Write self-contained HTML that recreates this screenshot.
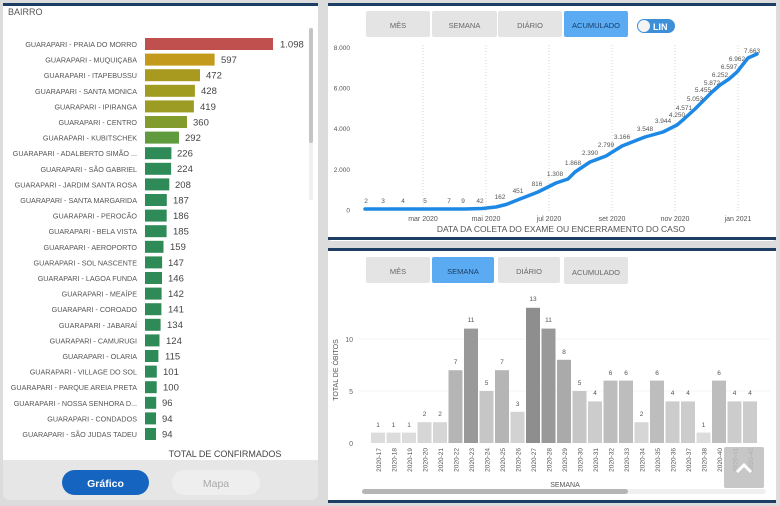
<!DOCTYPE html>
<html><head><meta charset="utf-8"><style>
html,body{margin:0;padding:0;width:780px;height:506px;overflow:hidden;background:#dedede;font-family:"Liberation Sans",sans-serif}
svg{display:block}
</style></head><body>
<svg width="780" height="506" viewBox="0 0 780 506" xmlns="http://www.w3.org/2000/svg" font-family="Liberation Sans, sans-serif">
<rect width="780" height="506" fill="#dcdcdc"/>
<!-- LEFT PANEL -->
<rect x="3" y="3" width="315" height="497" rx="6" fill="#e6e6e6"/>
<rect x="3" y="5" width="315" height="455" fill="#ffffff"/>
<rect x="3" y="3" width="315" height="3" fill="#1d3f66"/>
<text x="8" y="15" font-size="9" fill="#555">BAIRRO</text>
<rect x="309" y="28" width="4" height="172" fill="#f0f0f0"/>
<rect x="309" y="28" width="4" height="115" rx="2" fill="#c4c4c4"/>
<g font-size="7.2" fill="#555" text-anchor="end">
<text x="137" y="47">GUARAPARI - PRAIA DO MORRO</text>
<text x="137" y="62.6">GUARAPARI - MUQUIÇABA</text>
<text x="137" y="78.2">GUARAPARI - ITAPEBUSSU</text>
<text x="137" y="93.8">GUARAPARI - SANTA MONICA</text>
<text x="137" y="109.4">GUARAPARI - IPIRANGA</text>
<text x="137" y="125">GUARAPARI - CENTRO</text>
<text x="137" y="140.6">GUARAPARI - KUBITSCHEK</text>
<text x="137" y="156.2">GUARAPARI - ADALBERTO SIMÃO ...</text>
<text x="137" y="171.8">GUARAPARI - SÃO GABRIEL</text>
<text x="137" y="187.4">GUARAPARI - JARDIM SANTA ROSA</text>
<text x="137" y="203">GUARAPARI - SANTA MARGARIDA</text>
<text x="137" y="218.6">GUARAPARI - PEROCÃO</text>
<text x="137" y="234.2">GUARAPARI - BELA VISTA</text>
<text x="137" y="249.8">GUARAPARI - AEROPORTO</text>
<text x="137" y="265.4">GUARAPARI - SOL NASCENTE</text>
<text x="137" y="281">GUARAPARI - LAGOA FUNDA</text>
<text x="137" y="296.6">GUARAPARI - MEAÍPE</text>
<text x="137" y="312.2">GUARAPARI - COROADO</text>
<text x="137" y="327.8">GUARAPARI - JABARAÍ</text>
<text x="137" y="343.4">GUARAPARI - CAMURUGI</text>
<text x="137" y="359">GUARAPARI - OLARIA</text>
<text x="137" y="374.6">GUARAPARI - VILLAGE DO SOL</text>
<text x="137" y="390.2">GUARAPARI - PARQUE AREIA PRETA</text>
<text x="137" y="405.8">GUARAPARI - NOSSA SENHORA D...</text>
<text x="137" y="421.4">GUARAPARI - CONDADOS</text>
<text x="137" y="437">GUARAPARI - SÃO JUDAS TADEU</text>
</g>
<g>
<rect x="145" y="38" width="128" height="12" fill="#c0504d"/>
<rect x="145" y="53.6" width="69.6" height="12" fill="#c49a1c"/>
<rect x="145" y="69.2" width="55" height="12" fill="#a89a1e"/>
<rect x="145" y="84.8" width="49.9" height="12" fill="#a09c22"/>
<rect x="145" y="100.4" width="48.9" height="12" fill="#9c9c24"/>
<rect x="145" y="116" width="42" height="12" fill="#819b2c"/>
<rect x="145" y="131.6" width="34" height="12" fill="#5f9a3c"/>
<g fill="#2e8b57">
<rect x="145" y="147.2" width="26.4" height="12"/>
<rect x="145" y="162.8" width="26.1" height="12"/>
<rect x="145" y="178.4" width="24.3" height="12"/>
<rect x="145" y="194" width="21.8" height="12"/>
<rect x="145" y="209.6" width="21.7" height="12"/>
<rect x="145" y="225.2" width="21.6" height="12"/>
<rect x="145" y="240.8" width="18.5" height="12"/>
<rect x="145" y="256.4" width="17.1" height="12"/>
<rect x="145" y="272" width="17" height="12"/>
<rect x="145" y="287.6" width="16.6" height="12"/>
<rect x="145" y="303.2" width="16.4" height="12"/>
<rect x="145" y="318.8" width="15.6" height="12"/>
<rect x="145" y="334.4" width="14.5" height="12"/>
<rect x="145" y="350" width="13.4" height="12"/>
<rect x="145" y="365.6" width="11.8" height="12"/>
<rect x="145" y="381.2" width="11.7" height="12"/>
<rect x="145" y="396.8" width="11.2" height="12"/>
<rect x="145" y="412.4" width="11" height="12"/>
<rect x="145" y="428" width="11" height="12"/>
</g>
</g>
<g font-size="9.5" fill="#444">
<text x="280" y="47.5">1.098</text>
<text x="221" y="63">597</text>
<text x="206" y="78.6">472</text>
<text x="201" y="94.2">428</text>
<text x="200" y="109.8">419</text>
<text x="193" y="125.4">360</text>
<text x="185" y="141">292</text>
<text x="177" y="156.6">226</text>
<text x="177" y="172.2">224</text>
<text x="175" y="187.8">208</text>
<text x="173" y="203.4">187</text>
<text x="173" y="219">186</text>
<text x="173" y="234.6">185</text>
<text x="170" y="250.2">159</text>
<text x="168" y="265.8">147</text>
<text x="168" y="281.4">146</text>
<text x="168" y="297">142</text>
<text x="168" y="312.6">141</text>
<text x="167" y="328.2">134</text>
<text x="166" y="343.8">124</text>
<text x="165" y="359.4">115</text>
<text x="163" y="375">101</text>
<text x="163" y="390.6">100</text>
<text x="162" y="406.2">96</text>
<text x="162" y="421.8">94</text>
<text x="162" y="437.4">94</text>
</g>
<text x="225" y="457" font-size="9" fill="#444" text-anchor="middle">TOTAL DE CONFIRMADOS</text>
<rect x="62" y="470" width="87" height="25" rx="12.5" fill="#1565c0"/>
<text x="105.5" y="487" font-size="10.5" font-weight="bold" fill="#fff" text-anchor="middle">Gráfico</text>
<rect x="172" y="470" width="88" height="25" rx="12.5" fill="#eeeeee"/>
<text x="216" y="487" font-size="10.5" fill="#aaa" text-anchor="middle">Mapa</text>

<!-- TOP RIGHT PANEL -->
<rect x="328" y="3" width="448" height="238" rx="4" fill="#fff"/>
<rect x="328" y="3" width="448" height="3" fill="#1d3f66"/>
<rect x="328" y="237" width="448" height="3" fill="#1d3f66"/>
<g font-size="7.5" fill="#666" text-anchor="middle">
<rect x="366" y="11" width="64" height="26" rx="2" fill="#e4e4e4"/><text x="398" y="28">MÊS</text>
<rect x="432" y="11" width="65" height="26" rx="2" fill="#e4e4e4"/><text x="464.5" y="28">SEMANA</text>
<rect x="498" y="11" width="64" height="26" rx="2" fill="#e4e4e4"/><text x="530" y="28">DIÁRIO</text>
<rect x="564" y="11" width="64" height="26" rx="2" fill="#5aabf2"/><text x="596" y="28" fill="#1a3d66">ACUMULADO</text>
</g>
<rect x="637" y="19" width="38" height="14" rx="7" fill="#3d8fd8"/>
<circle cx="644" cy="26" r="6" fill="#f4f4f4"/>
<text x="653" y="30" font-size="9" font-weight="bold" fill="#fff">LIN</text>
<g font-size="6.5" fill="#555" text-anchor="end">
<text x="350" y="50">8.000</text><text x="350" y="90.5">6.000</text><text x="350" y="131">4.000</text><text x="350" y="172">2.000</text><text x="350" y="212.5">0</text>
</g>
<g stroke="#ccc" stroke-width="0.8" stroke-dasharray="1,2">
<line x1="423" y1="45" x2="423" y2="212"/><line x1="486" y1="45" x2="486" y2="212"/><line x1="549" y1="45" x2="549" y2="212"/><line x1="612" y1="45" x2="612" y2="212"/><line x1="675" y1="45" x2="675" y2="212"/><line x1="738" y1="45" x2="738" y2="212"/>
</g>
<g font-size="7" fill="#555" text-anchor="middle">
<text x="423" y="221">mar 2020</text><text x="486" y="221">mai 2020</text><text x="549" y="221">jul 2020</text><text x="612" y="221">set 2020</text><text x="675" y="221">nov 2020</text><text x="738" y="221">jan 2021</text>
</g>
<text x="561" y="232" font-size="8.5" fill="#555" text-anchor="middle">DATA DA COLETA DO EXAME OU ENCERRAMENTO DO CASO</text>
<polyline fill="none" stroke="#1e88e5" stroke-width="3.5" stroke-linejoin="round" stroke-linecap="round" points="365,209 465,209 482,208.5 496,207 506,204.5 520,199 538,192 556,183 568,179 575,172 590,162 606,156 622,146 645,137 663,132 677,125 684,119 695,109 703,101 712,92 720,85 729,79 737,72 748,58 757,54"/>
<g font-size="6.5" fill="#555" text-anchor="middle">
<text x="366" y="203">2</text><text x="383" y="203">3</text><text x="403" y="203">4</text><text x="425" y="203">5</text><text x="449" y="203">7</text><text x="463" y="203">9</text><text x="480" y="203">42</text>
<text x="500" y="199">162</text><text x="518" y="193">451</text><text x="537" y="186">816</text><text x="555" y="176">1.308</text><text x="573" y="165">1.868</text><text x="590" y="155">2.390</text><text x="606" y="147">2.799</text><text x="622" y="139">3.166</text><text x="645" y="131">3.548</text><text x="663" y="123">3.944</text><text x="677" y="117">4.250</text><text x="684" y="110">4.571</text><text x="695" y="101">5.053</text><text x="703" y="92">5.455</text><text x="712" y="85">5.872</text><text x="720" y="77">6.252</text><text x="729" y="69">6.597</text><text x="737" y="61">6.962</text><text x="752" y="53">7.663</text>
</g>

<!-- BOTTOM RIGHT PANEL -->
<rect x="328" y="248" width="448" height="254" rx="4" fill="#fff"/>
<rect x="328" y="248" width="448" height="3" fill="#1d3f66"/>
<rect x="328" y="500" width="448" height="3" fill="#1d3f66"/>
<g font-size="7.5" fill="#666" text-anchor="middle">
<rect x="366" y="257" width="64" height="26" rx="2" fill="#e4e4e4"/><text x="398" y="274">MÊS</text>
<rect x="432" y="257" width="62" height="26" rx="2" fill="#5aabf2"/><text x="463" y="274" fill="#1a3d66">SEMANA</text>
<rect x="498" y="257" width="62" height="26" rx="2" fill="#e4e4e4"/><text x="529" y="274">DIÁRIO</text>
<rect x="564" y="257" width="64" height="27" rx="2" fill="#e4e4e4"/><text x="596" y="275">ACUMULADO</text>
</g>
<g font-size="7" fill="#666" text-anchor="end">
<text x="353" y="446">0</text><text x="353" y="394">5</text><text x="353" y="342">10</text>
</g>
<g stroke="#f2f2f2" stroke-width="0.8"><line x1="358" y1="391" x2="770" y2="391"/><line x1="358" y1="339" x2="770" y2="339"/></g>
<text transform="translate(338,370) rotate(-90)" font-size="7" fill="#555" text-anchor="middle">TOTAL DE ÓBITOS</text>
<g id="bars"></g>
<g font-size="6.5" fill="#555" text-anchor="middle">
<rect x="371" y="432.6" width="14" height="10.4" fill="#dcdcdc"/><text x="378" y="427">1</text>
<rect x="386.5" y="432.6" width="14" height="10.4" fill="#dcdcdc"/><text x="393.5" y="427">1</text>
<rect x="402" y="432.6" width="14" height="10.4" fill="#dcdcdc"/><text x="409" y="427">1</text>
<rect x="417.5" y="422.2" width="14" height="20.8" fill="#d6d6d6"/><text x="424.5" y="416">2</text>
<rect x="433" y="422.2" width="14" height="20.8" fill="#d6d6d6"/><text x="440" y="416">2</text>
<rect x="448.5" y="370.2" width="14" height="72.8" fill="#b5b5b5"/><text x="455.5" y="364">7</text>
<rect x="464" y="328.6" width="14" height="114.4" fill="#999999"/><text x="471" y="322">11</text>
<rect x="479.5" y="391" width="14" height="52" fill="#c6c6c6"/><text x="486.5" y="385">5</text>
<rect x="495" y="370.2" width="14" height="72.8" fill="#b5b5b5"/><text x="502" y="364">7</text>
<rect x="510.5" y="411.8" width="14" height="31.2" fill="#d2d2d2"/><text x="517.5" y="406">3</text>
<rect x="526" y="307.8" width="14" height="135.2" fill="#8e8e8e"/><text x="533" y="301">13</text>
<rect x="541.5" y="328.6" width="14" height="114.4" fill="#999999"/><text x="548.5" y="322">11</text>
<rect x="557" y="359.8" width="14" height="83.2" fill="#aaaaaa"/><text x="564" y="354">8</text>
<rect x="572.5" y="391" width="14" height="52" fill="#c6c6c6"/><text x="579.5" y="385">5</text>
<rect x="588" y="401.4" width="14" height="41.6" fill="#cccccc"/><text x="595" y="395">4</text>
<rect x="603.5" y="380.6" width="14" height="62.4" fill="#bdbdbd"/><text x="610.5" y="375">6</text>
<rect x="619" y="380.6" width="14" height="62.4" fill="#bdbdbd"/><text x="626" y="375">6</text>
<rect x="634.5" y="422.2" width="14" height="20.8" fill="#d6d6d6"/><text x="641.5" y="416">2</text>
<rect x="650" y="380.6" width="14" height="62.4" fill="#bdbdbd"/><text x="657" y="375">6</text>
<rect x="665.5" y="401.4" width="14" height="41.6" fill="#cccccc"/><text x="672.5" y="395">4</text>
<rect x="681" y="401.4" width="14" height="41.6" fill="#cccccc"/><text x="688" y="395">4</text>
<rect x="696.5" y="432.6" width="14" height="10.4" fill="#dcdcdc"/><text x="703.5" y="427">1</text>
<rect x="712" y="380.6" width="14" height="62.4" fill="#bdbdbd"/><text x="719" y="375">6</text>
<rect x="727.5" y="401.4" width="14" height="41.6" fill="#cccccc"/><text x="734.5" y="395">4</text>
<rect x="743" y="401.4" width="14" height="41.6" fill="#cccccc"/><text x="750" y="395">4</text>
</g>
<g font-size="6.5" fill="#555" text-anchor="end">
<text transform="translate(381,448) rotate(-90)">2020-17</text>
<text transform="translate(396.5,448) rotate(-90)">2020-18</text>
<text transform="translate(412,448) rotate(-90)">2020-19</text>
<text transform="translate(427.5,448) rotate(-90)">2020-20</text>
<text transform="translate(443,448) rotate(-90)">2020-21</text>
<text transform="translate(458.5,448) rotate(-90)">2020-22</text>
<text transform="translate(474,448) rotate(-90)">2020-23</text>
<text transform="translate(489.5,448) rotate(-90)">2020-24</text>
<text transform="translate(505,448) rotate(-90)">2020-25</text>
<text transform="translate(520.5,448) rotate(-90)">2020-26</text>
<text transform="translate(536,448) rotate(-90)">2020-27</text>
<text transform="translate(551.5,448) rotate(-90)">2020-28</text>
<text transform="translate(567,448) rotate(-90)">2020-29</text>
<text transform="translate(582.5,448) rotate(-90)">2020-30</text>
<text transform="translate(598,448) rotate(-90)">2020-31</text>
<text transform="translate(613.5,448) rotate(-90)">2020-32</text>
<text transform="translate(629,448) rotate(-90)">2020-33</text>
<text transform="translate(644.5,448) rotate(-90)">2020-34</text>
<text transform="translate(660,448) rotate(-90)">2020-35</text>
<text transform="translate(675.5,448) rotate(-90)">2020-36</text>
<text transform="translate(691,448) rotate(-90)">2020-37</text>
<text transform="translate(706.5,448) rotate(-90)">2020-38</text>
<text transform="translate(722,448) rotate(-90)">2020-40</text>
<text transform="translate(737.5,448) rotate(-90)">2020-41</text>
<text transform="translate(753,448) rotate(-90)">2020-42</text>
</g>
<rect x="724" y="447" width="40" height="41" rx="2" fill="#bdbdbd" opacity="0.85"/>
<polyline points="737,472 744,465 751,472" fill="none" stroke="#fff" stroke-width="3"/>
<text x="565" y="487" font-size="7" fill="#555" text-anchor="middle">SEMANA</text>
<rect x="362" y="489" width="404" height="5" rx="2.5" fill="#f0f0f0"/>
<rect x="362" y="489" width="266" height="5" rx="2.5" fill="#b5b5b5"/>
</svg>
</body></html>
